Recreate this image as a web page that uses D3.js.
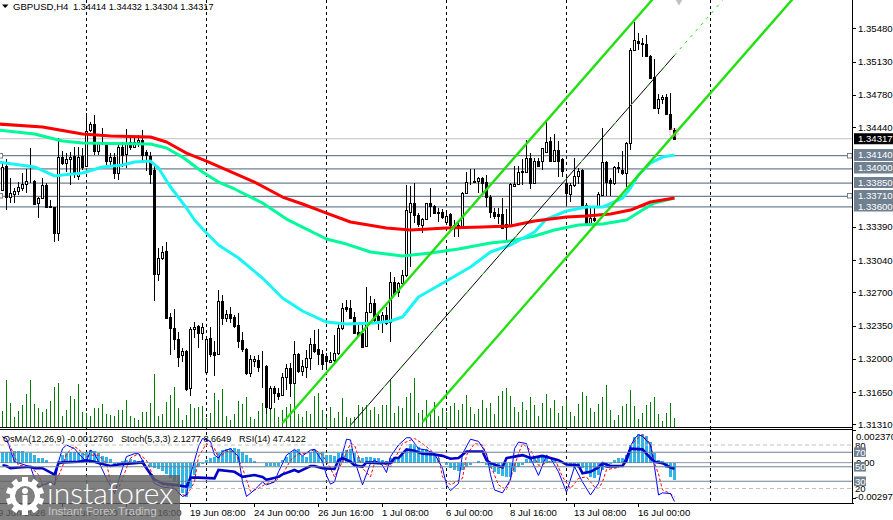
<!DOCTYPE html>
<html><head><meta charset="utf-8">
<script src="https://cdn.jsdelivr.net/npm/d3@7"></script>
<style>
html,body{margin:0;padding:0;background:#fff;overflow:hidden}
svg{display:block}
text{font-family:"Liberation Sans",Arial,sans-serif;font-size:9.6px;fill:#000}
</style></head><body>
<svg id="chart" width="893" height="520"></svg>
<script>
// GBPUSD H4 candles
const opens=[1.33777,1.34030,1.33703,1.33735,1.33766,1.33798,1.33840,1.33872,1.33872,1.33640,
1.33692,1.33830,1.33609,1.33598,1.33324,1.34124,1.34061,1.34103,1.34135,1.33925,
1.34135,1.34030,1.34409,1.34472,1.34188,1.34283,1.34262,1.34082,1.34124,1.33956,
1.34230,1.34156,1.34283,1.34230,1.34283,1.34304,1.34177,1.34135,1.33988,1.32893,
1.33061,1.33135,1.32440,1.32324,1.32208,1.32039,1.32081,1.31692,1.32313,1.32345,
1.32272,1.31860,1.32218,1.32071,1.32050,1.32608,1.32429,1.32472,1.32440,1.32356,
1.32197,1.32102,1.31850,1.31976,1.31987,1.31924,1.31924,1.31481,1.31692,1.31640,
1.31619,1.31808,1.31903,1.31745,1.32050,1.31871,1.31913,1.32008,1.32155,1.32102,
1.32050,1.32029,1.31966,1.31987,1.32060,1.32324,1.32545,1.32534,1.32440,1.32282,
1.32272,1.32134,1.32492,1.32587,1.32450,1.32398,1.32461,1.32387,1.32808,1.32703,
1.32798,1.32882,1.33545,1.33640,1.33513,1.33409,1.33471,1.33640,1.33609,1.33534,
1.33545,1.33440,1.33524,1.33409,1.33409,1.33398,1.33745,1.33840,1.33872,1.33872,
1.33904,1.33861,1.33703,1.33545,1.33524,1.33524,1.33419,1.33409,1.33819,1.33840,
1.33977,1.33967,1.34114,1.33850,1.34082,1.34082,1.34177,1.34293,1.34082,1.34198,
1.34103,1.33850,1.33735,1.33830,1.33925,1.33988,1.33619,1.33430,1.33482,1.33609,
1.33724,1.34072,1.33882,1.33850,1.34020,1.33988,1.33956,1.34272,1.35251,1.35346,
1.35315,1.35315,1.35188,1.34967,1.34641,1.34735,1.34756,1.34578,1.34414];
const highs=[1.34061,1.34103,1.33904,1.33798,1.33861,1.33956,1.33998,1.34219,1.33882,1.33703,
1.33904,1.33850,1.33672,1.33600,1.34325,1.34188,1.34166,1.34177,1.34230,1.34230,
1.34219,1.34588,1.34493,1.34567,1.34283,1.34430,1.34272,1.34166,1.34166,1.34251,
1.34283,1.34419,1.34325,1.34325,1.34356,1.34409,1.34198,1.34177,1.34040,1.33166,
1.33187,1.33229,1.32482,1.32524,1.32282,1.32113,1.32092,1.32335,1.32387,1.32356,
1.32377,1.32229,1.32335,1.32187,1.32724,1.32671,1.32513,1.32545,1.32461,1.32482,
1.32282,1.32113,1.32039,1.32029,1.32039,1.32081,1.31934,1.31713,1.31713,1.31692,
1.31850,1.31945,1.31955,1.32187,1.32060,1.31987,1.32092,1.32218,1.32303,1.32313,
1.32092,1.32060,1.32071,1.32250,1.32377,1.32587,1.32619,1.32619,1.32492,1.32356,
1.32356,1.32756,1.32660,1.32629,1.32482,1.32492,1.32545,1.32914,1.32860,1.32808,
1.32935,1.33830,1.33819,1.33850,1.33534,1.33482,1.33640,1.33798,1.33619,1.33588,
1.33577,1.33566,1.33534,1.33461,1.33430,1.33756,1.33967,1.33998,1.33998,1.33914,
1.33914,1.33935,1.33724,1.33588,1.33588,1.33692,1.33577,1.33850,1.34030,1.34030,
1.34103,1.34304,1.34166,1.34114,1.34114,1.34219,1.34514,1.34335,1.34367,1.34293,
1.34114,1.33935,1.33850,1.34114,1.34009,1.33998,1.33640,1.33588,1.33588,1.33756,
1.34430,1.34082,1.33904,1.34030,1.34072,1.34188,1.34283,1.35272,1.35546,1.35430,
1.35378,1.35409,1.35199,1.35157,1.34788,1.34778,1.34788,1.34799,1.34432];
const lows=[1.33766,1.33566,1.33640,1.33640,1.33724,1.33766,1.33745,1.33850,1.33619,1.33482,
1.33682,1.33588,1.33588,1.33229,1.33240,1.34040,1.33967,1.33830,1.33904,1.33882,
1.33988,1.34025,1.34388,1.34145,1.34145,1.34251,1.34040,1.34040,1.33893,1.33882,
1.34020,1.34009,1.34198,1.34219,1.34230,1.34093,1.33977,1.33840,1.32608,1.32819,
1.33040,1.32419,1.32039,1.32092,1.31913,1.31966,1.31660,1.31608,1.32218,1.32113,
1.32197,1.31850,1.32018,1.31818,1.32039,1.32356,1.32387,1.32377,1.32324,1.32113,
1.32071,1.31829,1.31808,1.31913,1.31860,1.31692,1.31418,1.31460,1.31534,1.31566,
1.31608,1.31671,1.31598,1.31734,1.31850,1.31818,1.31797,1.31882,1.32060,1.31934,
1.31882,1.31882,1.31955,1.31966,1.32039,1.32303,1.32492,1.32424,1.32267,1.32229,
1.32113,1.32123,1.32482,1.32387,1.32303,1.32272,1.32356,1.32176,1.32671,1.32650,
1.32777,1.32860,1.32966,1.33430,1.33387,1.33324,1.33461,1.33492,1.33534,1.33440,
1.33471,1.33430,1.33356,1.33282,1.33282,1.33387,1.33735,1.33830,1.33856,1.33745,
1.33724,1.33598,1.33482,1.33471,1.33419,1.33366,1.33250,1.33398,1.33809,1.33830,
1.33830,1.33961,1.33788,1.33840,1.34020,1.33988,1.34166,1.34072,1.34072,1.33914,
1.33914,1.33619,1.33651,1.33809,1.33840,1.33609,1.33409,1.33425,1.33440,1.33598,
1.33719,1.33714,1.33714,1.33830,1.33956,1.33935,1.33809,1.34198,1.35241,1.35251,
1.35178,1.35178,1.34952,1.34636,1.34578,1.34683,1.34567,1.34409,1.34304];
const closes=[1.34020,1.33703,1.33745,1.33766,1.33809,1.33840,1.33872,1.33877,1.33630,1.33692,
1.33830,1.33598,1.33593,1.33324,1.34124,1.34061,1.34103,1.34124,1.33967,1.34124,
1.34020,1.34398,1.34472,1.34188,1.34272,1.34267,1.34082,1.34124,1.33956,1.34230,
1.34145,1.34272,1.34230,1.34283,1.34304,1.34145,1.34145,1.33946,1.32893,1.33061,
1.33124,1.32429,1.32324,1.32208,1.32018,1.32081,1.31681,1.32313,1.32335,1.32272,
1.32335,1.32208,1.32050,1.32039,1.32608,1.32429,1.32472,1.32429,1.32345,1.32187,
1.32102,1.31850,1.31997,1.31997,1.31913,1.31919,1.31492,1.31692,1.31640,1.31608,
1.31808,1.31903,1.31745,1.32050,1.31871,1.31924,1.32008,1.32155,1.32081,1.32050,
1.31945,1.31976,1.31987,1.32060,1.32324,1.32534,1.32524,1.32429,1.32272,1.32250,
1.32123,1.32492,1.32587,1.32408,1.32398,1.32461,1.32377,1.32808,1.32682,1.32798,
1.32882,1.33566,1.33640,1.33513,1.33419,1.33471,1.33640,1.33609,1.33534,1.33545,
1.33492,1.33503,1.33409,1.33377,1.33398,1.33745,1.33861,1.33845,1.33861,1.33904,
1.33850,1.33703,1.33545,1.33503,1.33503,1.33377,1.33387,1.33840,1.33840,1.33967,
1.33967,1.34114,1.33850,1.34082,1.34030,1.34219,1.34283,1.34082,1.34198,1.34082,
1.33977,1.33745,1.33830,1.33925,1.33977,1.33619,1.33430,1.33482,1.33461,1.33735,
1.34072,1.33861,1.33850,1.34020,1.34009,1.33956,1.34272,1.35251,1.35357,1.35325,
1.35325,1.35188,1.34957,1.34641,1.34735,1.34756,1.34578,1.34419,1.34317];
const tickVolume=[1500,4600,2300,900,1500,2100,3200,4600,2200,1800,
1400,1700,2500,3900,4300,1000,1600,3000,2700,4200,
1400,1300,1000,1800,1800,2200,1200,1100,1000,1600,
1600,2600,1000,800,600,1400,1400,2300,5200,1000,
1200,2400,3100,3900,1800,600,1100,2200,1800,1900,
2000,800,1300,3300,2600,3700,1000,600,1200,2500,
2200,2900,900,700,1500,2300,2300,2800,1800,900,
1600,1900,2200,4300,1200,900,1500,1200,3000,3300,
1600,900,1900,800,1400,2800,900,800,900,2100,
1900,2100,1600,1900,1200,2100,2100,4700,1300,2000,
1800,2900,3300,4800,1300,1600,2600,1200,2400,1000,
1800,1400,2000,2300,1600,2200,3100,1900,1200,1700,
2600,1800,2300,1200,3000,3500,3800,3000,1900,1400,
2400,1600,2900,2100,1000,2300,3200,1800,2600,1300,
2000,2700,1400,1000,2200,3400,3000,1800,1400,2200,
2900,4100,1600,600,1100,2000,2200,3600,2000,700,
1300,2100,2400,2900,1200,500,1300,2300,800];

// Moving averages: bar index, price (the chart opens just before bar 0)
const redBars=[-1,10,20,27,37,41,46,51,56,63,70,75,81,87,96,102,111,120,127,133,141,146,152,157,162,168];
const redValues=[1.34472,1.34440,1.34367,1.34346,1.34335,1.34283,1.34166,1.34082,1.33988,1.33861,1.33703,1.33630,1.33534,1.33440,1.33377,1.33356,1.33377,1.33387,1.33398,1.33451,1.33492,1.33503,1.33524,1.33566,1.33651,1.33692];
const springBars=[-1,8,15,20,27,37,41,45,50,54,58,65,71,75,81,86,92,100,107,114,122,127,133,138,144,150,156,160,163,168];
const springValues=[1.34409,1.34367,1.34293,1.34272,1.34267,1.34262,1.34219,1.34124,1.33967,1.33861,1.33788,1.33640,1.33471,1.33387,1.33261,1.33208,1.33124,1.33082,1.33114,1.33156,1.33219,1.33240,1.33293,1.33356,1.33409,1.33419,1.33461,1.33566,1.33640,1.33692];
const cyanBars=[-1,8,13,15,20,25,30,33,37,39,42,46,48,51,54,59,65,70,75,81,86,93,97,100,104,111,117,122,127,133,136,141,146,150,155,157,159,162,165,168];
const cyanValues=[1.34072,1.34020,1.33925,1.33935,1.33956,1.34020,1.34040,1.34072,1.34082,1.34009,1.33809,1.33588,1.33461,1.33324,1.33198,1.33061,1.32850,1.32640,1.32503,1.32387,1.32366,1.32377,1.32398,1.32440,1.32650,1.32819,1.32966,1.33124,1.33198,1.33335,1.33471,1.33556,1.33598,1.33598,1.33692,1.33798,1.33935,1.34061,1.34124,1.34145];

// Rising price channel: [first bar, last bar] and the prices there
const upperChannelBars=[70,163], upperChannelPrices=[1.31323,1.35808];
const midChannelBars=[87,168], midChannelPrices=[1.31300,1.35196];
const midRayBars=[168,180], midRayPrices=[1.35196,1.35773];
const lowerChannelBars=[105,198], lowerChannelPrices=[1.31335,1.35810];

// Horizontal levels and price axis
const levelPrices=[1.34140,1.34000,1.33850,1.33710,1.33600];
const handleLevels=[1.34140,1.33710];
const bidPrice=1.34317;
const priceTicks=[1.35480,1.35130,1.34780,1.34440,1.33390,1.33040,1.32700,1.32350,1.32000,1.31650,1.31310];

// Time axis
const gridBars=[21,51,81,111,141,177];
const timeTickBars=[47,63,79,95,111,127,143,159,31,15];
const timeTickLabels=["19 Jun 08:00","24 Jun 00:00","26 Jun 16:00","1 Jul 08:00","6 Jul 00:00","8 Jul 16:00","13 Jul 08:00","16 Jul 00:00","16 Jun 16:00","12 Jun 00:00"];
const firstTimeLabel="9 Jun 2026";

// Oscillators
const osmaHist=[.00080,.00080,.00080,.00085,.00085,.00085,.00068,.00068,.00055,.00036,
.00036,.00018,.00001,-.00006,.00011,.00060,.00068,.00075,.00080,.00075,
.00068,.00080,.00092,.00085,.00068,.00050,.00038,.00026,-.00023,-.00014,
.00011,.00018,.00026,.00018,.00011,.00018,-.00006,-.00031,-.00043,-.00050,
-.00063,-.00080,-.00112,-.00141,-.00178,-.00227,-.00252,-.00190,-.00092,-.00031,
-.00011,.00023,.00031,.00043,.00068,.00092,.00100,.00109,.00109,.00100,
.00080,.00055,.00031,.00011,.00001,0,-.00023,-.00023,-.00023,-.00023,
.00018,.00043,.00068,.00092,.00100,.00050,.00043,.00080,.00097,.00068,
.00075,.00060,.00055,.00050,.00068,.00080,.00092,.00100,.00068,.00043,
.00036,.00038,.00038,.00031,.00031,.00018,.00011,.00031,.00031,.00043,
.00055,.00100,.00141,.00134,.00117,.00104,.00100,.00085,.00060,.00031,
.00001,-.00018,-.00038,-.00055,-.00063,-.00055,-.00031,-.00014,-.00001,.00014,
.00006,-.00018,-.00043,-.00068,-.00087,-.00097,-.00104,-.00104,-.00068,-.00031,
-.00014,.00026,.00031,.00036,.00038,.00038,.00038,.00011,.00018,-.00001,
-.00006,-.00014,-.00023,-.00038,-.00043,-.00043,-.00068,-.00104,-.00112,-.00092,
-.00055,-.00030,-.00008,.00023,.00031,.00031,.00055,.00129,.00190,.00210,
.00210,.00195,.00154,.00072,.00023,.00014,-.00036,-.00104,-.001276];
const stochBars=[0,1,3,7,8,9,11,12,13,14,15,16,18,19,21,22,23,24,26,28,30,31,33,34,36,38,40,43,45,46,47,49,50,52,53,54,55,57,59,60,61,63,65,66,68,69,71,73,75,77,78,80,81,82,83,85,86,87,88,90,92,93,95,96,97,99,101,102,104,106,108,110,111,112,114,115,117,119,121,122,123,125,127,128,129,131,132,134,136,137,139,141,143,145,147,149,150,151,154,155,157,158,159,160,162,163,164,165,167,168];
const stochValues=[91,89,57,50,34,22,27,29,25,57,75,80,75,68,57,73,68,57,34,13,48,64,68,68,50,27,22,20,9,11,39,78,89,85,66,62,71,75,64,29,9,18,29,25,29,43,66,74,65,73,74,57,38,26,29,68,88,87,59,25,55,59,52,42,64,80,90,90,75,73,68,48,25,17,27,68,88,85,68,39,18,14,32,75,84,82,62,38,66,62,43,15,50,29,11,27,52,49,50,52,78,89,94,92,80,50,11,14,13,2.13];
const signalBars=[0,2,3,4,7,9,10,12,13,15,16,18,19,21,22,24,26,27,29,31,32,34,36,38,40,43,44,46,48,49,51,53,54,56,58,60,62,64,66,68,70,72,74,76,78,80,82,83,85,87,88,90,92,93,95,97,99,100,103,105,107,109,110,112,115,116,118,120,122,124,126,127,129,130,132,134,136,138,140,142,144,146,148,149,150,151,154,156,157,159,160,162,163,164,165,167,168];
const signalValues=[92,78,64,52,50,39,25,27,25,50,68,78,74,64,66,66,55,29,20,48,62,68,59,32,25,22,13,10,29,64,82,75,62,71,71,48,16,20,27,29,39,59,68,68,74,66,48,36,57,82,80,48,36,55,55,50,71,82,89,82,73,64,36,25,34,66,82,80,52,25,18,34,68,82,73,52,55,62,36,20,34,36,22,20,29,46,49,59,80,90,94,82,55,40,18,13,8.66];
const rsiBars=[0,1,2,4,7,8,10,13,14,15,19,21,23,24,27,29,33,35,36,38,40,43,46,47,49,53,54,58,60,63,65,66,69,70,73,74,77,78,80,83,84,85,87,88,90,91,94,97,98,99,101,103,105,108,110,112,114,116,120,121,122,125,126,128,130,132,135,137,139,141,144,145,147,149,150,152,155,156,157,160,162,163,165,167,168];
const rsiValues=[52,51,48,49,50,48,48,39,55,56,57,59,57,55,51,53,55,56,48,32,27,25,22.5,35,35,34,45.5,43,36,38.5,36,32,36,39.5,45.5,43,51,51,48,47,59,62,57,52,50,56,55,55,62,62,74,72,68,67,65,61,62,71,71,59,55,49,62,64,66,62,65,62,59,53,52,41,43,49,55,51,51,59,75,74,62,57,55,49,47.41];
const stochLevels=[80,20];
const rsiLevels=[70,50,30];

// Panel geometry
const mainBottom=427, subTop=430, subBottom=503, axisX=853;
const svg=d3.select("#chart");
const x=d3.scaleLinear().domain([0,1]).range([2.5,6.5]);
const y=d3.scaleLinear().domain([1.3131,1.3548]).range([424.3,28.3]);
const yOsma=d3.scaleLinear().domain([-.002974,.00237]).range([503,430.5]);
const yPct=d3.scaleLinear().domain([0,100]).range([503,430.5]);
const yVol=d3.scaleLinear().domain([0,5200]).range([426,374]);
const col=i=>Math.floor(x(i));
const range=d3.range(opens.length);

svg.append("defs").append("clipPath").attr("id","mainClip").append("rect").attr("width",axisX).attr("height",mainBottom);
svg.select("defs").append("clipPath").attr("id","subClip").append("rect").attr("y",subTop).attr("width",axisX).attr("height",subBottom-subTop);

// Vertical period separators
const crisp=svg.append("g").attr("shape-rendering","crispEdges");
crisp.selectAll("line.grid").data(gridBars).join("line").attr("class","grid")
  .attr("x1",d=>col(d)+.5).attr("x2",d=>col(d)+.5).attr("y1",0).attr("y2",subBottom)
  .attr("stroke","#000").attr("stroke-dasharray","3 3");

// Price levels
const lvl=svg.append("g");
lvl.append("line").attr("x1",0).attr("x2",axisX).attr("y1",y(bidPrice)).attr("y2",y(bidPrice)).attr("stroke","#c0c0c0").attr("stroke-width",1);
lvl.selectAll("line.lv").data(levelPrices).join("line").attr("class","lv")
  .attr("x1",0).attr("x2",axisX).attr("y1",d=>y(d)).attr("y2",d=>y(d)).attr("stroke","#708090").attr("stroke-width",1.2);

// Tick volume
crisp.selectAll("rect.vol").data(range).join("rect").attr("class","vol")
  .attr("x",col).attr("width",1).attr("y",i=>yVol(tickVolume[i])).attr("height",i=>mainBottom-yVol(tickVolume[i]))
  .attr("fill","#008000");

// Candles
const cg=svg.append("g").attr("shape-rendering","crispEdges");
cg.selectAll("rect.wick").data(range).join("rect").attr("class","wick")
  .attr("x",col).attr("width",1).attr("y",i=>Math.round(y(highs[i]))).attr("height",i=>Math.max(1,Math.round(y(lows[i]))-Math.round(y(highs[i]))))
  .attr("fill","#000");
cg.selectAll("rect.body").data(range).join("rect").attr("class","body")
  .attr("x",i=>col(i)-.5).attr("width",2)
  .attr("y",i=>Math.round(y(Math.max(opens[i],closes[i])))+.5)
  .attr("height",i=>Math.max(0,Math.round(y(Math.min(opens[i],closes[i])))-Math.round(y(Math.max(opens[i],closes[i])))))
  .attr("fill",i=>closes[i]>=opens[i]?"#fff":"#000").attr("stroke","#000");

// Moving averages
const maLine=(bars,vals,color)=>svg.append("path")
  .attr("d",d3.line().x(i=>x(bars[i])).y(i=>y(vals[i]))(d3.range(bars.length)))
  .attr("fill","none").attr("stroke",color).attr("stroke-width",3).attr("stroke-linejoin","round")
  .attr("clip-path","url(#mainClip)");
maLine(springBars,springValues,"#00fa9a");
maLine(cyanBars,cyanValues,"#19f5f5");
maLine(redBars,redValues,"#ff0000");

// Channel
const chan=svg.append("g").attr("clip-path","url(#mainClip)");
const seg=(bars,vals,color,w,dash)=>chan.append("line")
  .attr("x1",x(bars[0])).attr("x2",x(bars[1])).attr("y1",y(vals[0])).attr("y2",y(vals[1]))
  .attr("stroke",color).attr("stroke-width",w).attr("stroke-dasharray",dash||null);
seg(upperChannelBars,upperChannelPrices,"#22e010",2.4);
seg(lowerChannelBars,lowerChannelPrices,"#22e010",2.4);
seg(midChannelBars,midChannelPrices,"#000",1);
seg(midChannelBars,midChannelPrices,"#22e010",1,"3 22");
seg(midRayBars,midRayPrices,"#22e010",1,"3 5");

// Current-bar marker and anchor
svg.append("rect").attr("x",x(168)-4.5).attr("y",y(1.34414)-0.5).attr("width",8).attr("height",7).attr("rx",2)
  .attr("fill","none").attr("stroke","#ff9090").attr("stroke-width",1).attr("stroke-dasharray","2 1");
svg.append("path").attr("d",d3.symbol(d3.symbolDiamond,36)()).attr("transform","translate(679,0)").attr("fill","#c0c0c0");

// Level handles
const handles=[0,849.5];
handles.forEach(hx=>svg.selectAll(null).data(handleLevels).join("rect")
  .attr("x",hx-2).attr("y",d=>Math.round(y(d))-2.5).attr("width",4.5).attr("height",4.5)
  .attr("fill","#fff").attr("stroke","#708090"));

// Oscillator panel
const sub=svg.append("g").attr("clip-path","url(#subClip)");
const subLv=svg.append("g");
subLv.selectAll("line.d").data(stochLevels).join("line").attr("class","d")
  .attr("x1",0).attr("x2",axisX).attr("y1",d=>yPct(d)).attr("y2",d=>yPct(d))
  .attr("stroke","#c0c0c0").attr("stroke-dasharray","4 3");
subLv.selectAll("line.r").data(rsiLevels).join("line").attr("class","r")
  .attr("x1",0).attr("x2",axisX).attr("y1",d=>yPct(d)).attr("y2",d=>yPct(d))
  .attr("stroke","#708090").attr("stroke-width",1.2);
subLv.append("line").attr("x1",0).attr("x2",axisX).attr("y1",yOsma(0)).attr("y2",yOsma(0)).attr("stroke","#708090").attr("opacity",.8);
sub.selectAll("rect.h").data(range).join("rect").attr("class","h").attr("shape-rendering","crispEdges")
  .attr("x",i=>col(i)-1).attr("width",3)
  .attr("y",i=>Math.min(yOsma(0),yOsma(osmaHist[i])))
  .attr("height",i=>Math.abs(yOsma(0)-yOsma(osmaHist[i])))
  .attr("fill","#33b5e5");
const subLine=(bars,vals,color,w,dash)=>sub.append("path")
  .attr("d",d3.line().x(i=>x(bars[i])).y(i=>yPct(vals[i]))(d3.range(bars.length)))
  .attr("fill","none").attr("stroke",color).attr("stroke-width",w).attr("stroke-dasharray",dash||null);
subLine(signalBars,signalValues,"#ff0000",1,"3 2");
subLine(stochBars,stochValues,"#0000ff",1);
subLine(rsiBars,rsiValues,"#0000cd",2.6);

// Frame
const fr=svg.append("g").attr("shape-rendering","crispEdges").attr("stroke","#000");
fr.append("line").attr("x1",0).attr("x2",axisX).attr("y1",mainBottom+.5).attr("y2",mainBottom+.5);
fr.append("line").attr("x1",0).attr("x2",axisX).attr("y1",subTop-.5).attr("y2",subTop-.5);
fr.append("line").attr("x1",0).attr("x2",axisX+1).attr("y1",subBottom+.5).attr("y2",subBottom+.5);
fr.append("line").attr("x1",axisX-.5).attr("x2",axisX-.5).attr("y1",0).attr("y2",subBottom);

// Price axis
const axisG=svg.append("g");
const rightLabel=(g,py,str,bg,top,h)=>{
  g.append("rect").attr("x",axisX+1).attr("y",top).attr("width",40).attr("height",h).attr("fill",bg);
  g.append("text").attr("x",858).attr("y",py+3.5).text(str).style("fill","#fff");
};
const tickG=axisG.append("g");
tickG.selectAll("text").data(priceTicks).join("text").attr("x",858).attr("y",d=>y(d)+3.5).text(d=>d.toFixed(5));
fr.selectAll("line.t").data(priceTicks).join("line").attr("class","t")
  .attr("x1",axisX).attr("x2",axisX+3).attr("y1",d=>Math.round(y(d))+.5).attr("y2",d=>Math.round(y(d))+.5);
const levelBoxes=[[149,12],[162,11.5],[177,11],[190,12],[202,9.5]];
levelPrices.forEach((p,k)=>rightLabel(axisG,levelBoxes[k][0]+levelBoxes[k][1]/2-.2,p.toFixed(5),"#708090",levelBoxes[k][0],levelBoxes[k][1]));
rightLabel(axisG,y(bidPrice),bidPrice.toFixed(5),"#000",y(bidPrice)-5.5,11);

// Oscillator axis labels
const subAxisG=svg.append("g");
subAxisG.append("text").attr("x",856).attr("y",440).text("0.002370");
subAxisG.append("text").attr("x",856).attr("y",465.5).text("0.00");
subAxisG.append("text").attr("x",855).attr("y",500).text("-0.002974");
stochLevels.forEach(v=>subAxisG.append("text").attr("x",855).attr("y",yPct(v)+3.5).text(v));
rsiLevels.forEach(v=>{
  subAxisG.append("rect").attr("x",854).attr("y",yPct(v)-4.8).attr("width",12).attr("height",9.6).attr("fill","#708090");
  subAxisG.append("text").attr("x",855).attr("y",yPct(v)+3.5).text(v).style("fill","#fff");
});
fr.append("line").attr("x1",axisX).attr("x2",axisX+3).attr("y1",430.5).attr("y2",430.5);
fr.append("line").attr("x1",axisX).attr("x2",axisX+3).attr("y1",498.5).attr("y2",498.5);

// Time axis
svg.selectAll("text.tm").data(timeTickBars).join("text").attr("class","tm")
  .attr("x",d=>col(d)).attr("y",516).text((d,i)=>timeTickLabels[i]);
svg.append("text").attr("x",-2).attr("y",516).text(firstTimeLabel);
fr.selectAll("line.tt").data(timeTickBars).join("line").attr("class","tt")
  .attr("x1",d=>col(d)+.5).attr("x2",d=>col(d)+.5).attr("y1",subBottom).attr("y2",subBottom+4);

// Titles
svg.append("path").attr("d","M2,4.5H8.5L5.2,8Z").attr("fill","#000");
svg.append("text").attr("x",13).attr("y",10).text("GBPUSD,H4");
svg.append("text").attr("x",73).attr("y",10).style("font-size","9.2px").text("1.34414 1.34432 1.34304 1.34317");
svg.append("text").attr("x",3).attr("y",442).style("font-size","9.1px").text("OsMA(12,26,9) -0.0012760");
svg.append("text").attr("x",121).attr("y",442).style("font-size","9.1px").text("Stoch(5,3,3) 2.1277 8.6649");
svg.append("text").attr("x",239).attr("y",442).style("font-size","9.1px").text("RSI(14) 47.4122");

// Broker badge
const badge=svg.append("g");
badge.append("rect").attr("x",0).attr("y",475).attr("width",180).attr("height",45).attr("fill","#606060").attr("opacity",.8);
const gear=badge.append("g").attr("transform","translate(25,496)");
gear.selectAll("rect").data(d3.range(10)).join("rect").attr("x",-3).attr("y",-19).attr("width",6).attr("height",9)
  .attr("transform",d=>`rotate(${d*36})`).attr("fill","#fff");
gear.append("circle").attr("r",12.5).attr("fill","none").attr("stroke","#fff").attr("stroke-width",5);
gear.append("circle").attr("cy",-5).attr("r",3).attr("fill","#fff");
gear.append("rect").attr("x",-2.5).attr("y",-1).attr("width",5).attr("height",11).attr("fill","#fff");
badge.append("text").attr("x",47).attr("y",504).text("instaforex").style("font-family","Lato, sans-serif").style("font-size","30px").style("font-weight","300").style("fill","#fff");
badge.append("text").attr("x",48).attr("y",515).text("Instant Forex Trading").style("font-size","11.5px").style("fill","#ffffff").style("opacity",.55);
</script>
</body></html>
